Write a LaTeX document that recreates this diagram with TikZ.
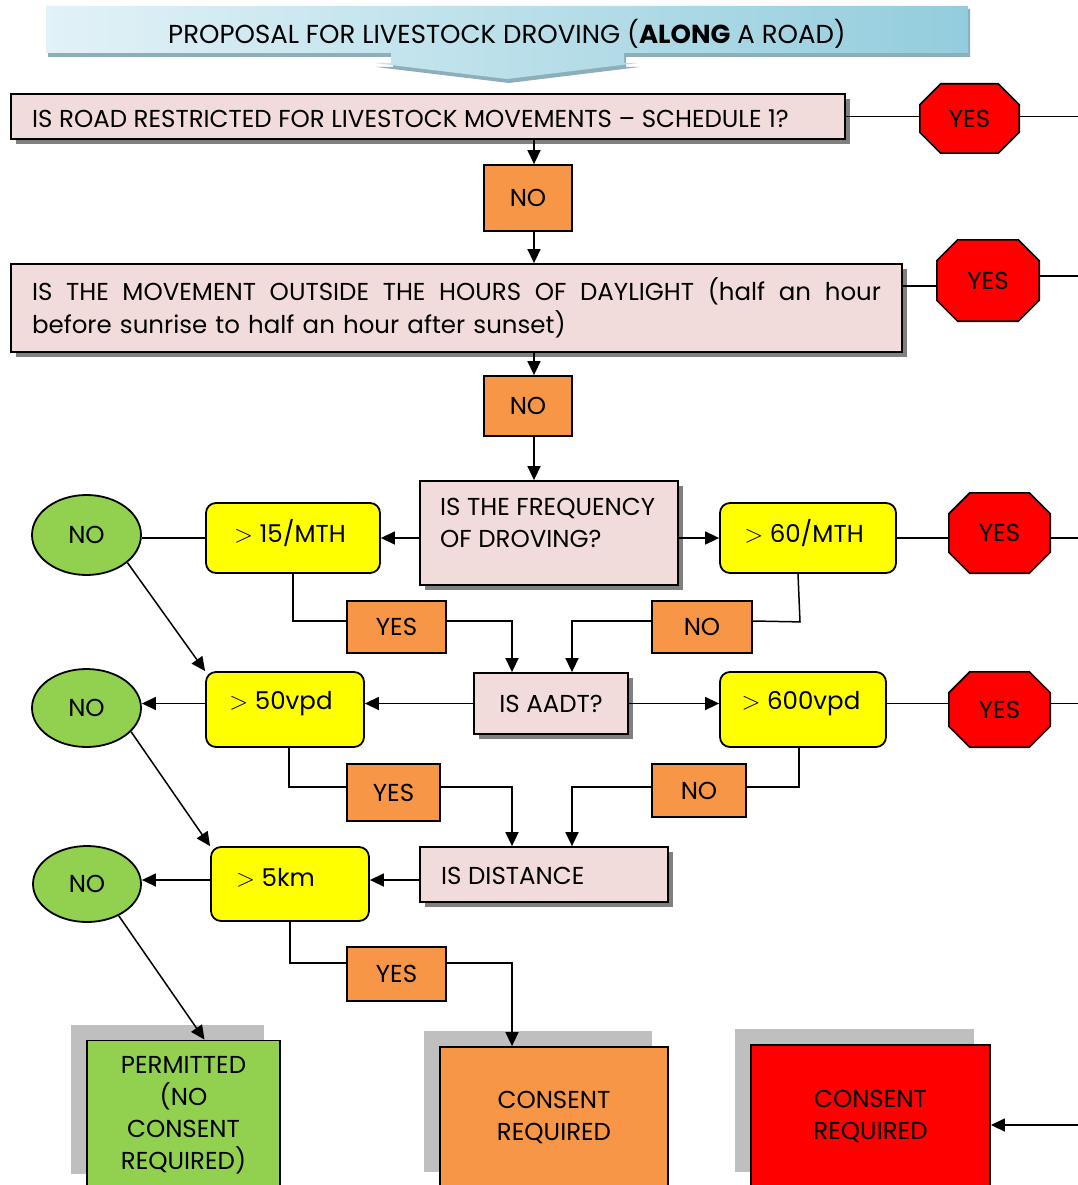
\documentclass[tikz,border=0pt]{standalone}
\usepackage{fontspec}
\setmainfont{Poppins}
\usetikzlibrary{arrows.meta,shadows,calc,shapes.geometric}
\definecolor{pinkfill}{HTML}{F2DCDB}
\definecolor{orangefill}{HTML}{F79646}
\definecolor{yellowfill}{HTML}{FFFF00}
\definecolor{greenfill}{HTML}{92D050}
\definecolor{stopred}{HTML}{FF0000}
\definecolor{shgray}{HTML}{808080}
\definecolor{lgray}{HTML}{BFBFBF}
\definecolor{bannerL}{HTML}{E2F2F7}
\definecolor{bannerR}{HTML}{93CDDD}
\definecolor{bannerSh}{HTML}{8DAFBB}
\pgfdeclarelayer{background}
\pgfsetlayers{background,main}
\newcommand\mainfs{\fontsize{24.5}{32}\selectfont}
\newcommand\titlefs{\fontsize{26}{32}\selectfont}
\newcommand\gt{$>$}
\newcommand\jsp{\hskip 7pt plus 1fil\relax}
\newcommand\octfill[1]{\filldraw[fill=stopred,line width=1.6pt]
 ([xshift=21pt]#1.north west) -- ([xshift=-21pt]#1.north east) --
 ([yshift=-21pt]#1.north east) -- ([yshift=21pt]#1.south east) --
 ([xshift=-21pt]#1.south east) -- ([xshift=21pt]#1.south west) --
 ([yshift=21pt]#1.south west) -- ([yshift=-21pt]#1.north west) -- cycle;}
\begin{document}
\begin{tikzpicture}[x=1pt,y=-1pt,
  every node/.style={font=\mainfs},
  txt/.style={inner sep=0pt},
  ln/.style={line width=1.5pt},
  arr/.style={ln,-{Triangle[length=14pt,width=13pt]}},
  pinkbox/.style={draw,line width=1.8pt,fill=pinkfill,inner sep=0pt,
    drop shadow={shadow xshift=5pt,shadow yshift=-5pt,fill=shgray,opacity=1}},
  orangebox/.style={draw,line width=1.8pt,fill=orangefill,inner sep=0pt},
  yellowbox/.style={draw,line width=1.8pt,fill=yellowfill,rounded corners=10pt,inner sep=0pt},
  greenell/.style={ellipse,draw,line width=1.8pt,fill=greenfill,inner sep=0pt},
  octnode/.style={inner sep=0pt},
  endbox/.style={draw,line width=1.8pt,inner sep=0pt,align=center,
    drop shadow={shadow xshift=-16pt,shadow yshift=16pt,fill=lgray,opacity=1}}]
\useasboundingbox (0,0) rectangle (1078,1185);
\clip (0,0) rectangle (1078,1185);
\coordinate (edge) at (1078,0);
\coordinate (vx) at (534,0);

% title banner
\fill[bannerSh] (48,9) -- (970,9) -- (970,57) -- (626,57) -- (626,67) -- (640,67) -- (509,83) -- (376,67) -- (393,67) -- (393,57) -- (48,57) -- cycle;
\shade[left color=bannerL,right color=bannerR] (46,6) -- (968,6) -- (968,53) -- (624,53) -- (624,63) -- (638,63) -- (507,79) -- (374,63) -- (391,63) -- (391,53) -- (46,53) -- cycle;
\node[txt,font=\titlefs] (title) at (507,34) {PROPOSAL FOR LIVESTOCK DROVING (\textbf{ALONG} A ROAD)};

% question 1
\node[pinkbox,minimum width=834pt,minimum height=45pt] (q1) at (428,116.5) {};
\node[txt,anchor=west] (tq1) at (32,119) {IS ROAD RESTRICTED FOR LIVESTOCK MOVEMENTS -- SCHEDULE 1?};
\node[octnode,minimum width=99pt,minimum height=69pt] (o1) at (969.5,118.5) {YES};
\node[orangebox,minimum width=88pt,minimum height=66pt] (n1) at (528,198) {NO};

% question 2
\node[pinkbox,minimum width=891pt,minimum height=88pt,text width=849pt,align=left,inner xsep=21pt,font=\fontsize{24.5}{33}\selectfont] (q2) at (456.5,308)
 {\hbox to 849pt{IS\jsp THE\jsp MOVEMENT\jsp OUTSIDE\jsp THE\jsp HOURS\jsp OF\jsp DAYLIGHT\jsp (half\jsp an\jsp hour}\\before sunrise to half an hour after sunset)};
\node[octnode,minimum width=102pt,minimum height=81pt] (o2) at (988,280.5) {YES};
\node[orangebox,minimum width=88pt,minimum height=60pt] (n2) at (528,406) {NO};

% frequency row
\node[pinkbox,minimum width=258pt,minimum height=104pt] (fq) at (549,533) {};
\node[txt,anchor=west,align=left] (tfq) at (440,523) {IS THE FREQUENCY\\OF DROVING?};
\node[yellowbox,minimum width=174pt,minimum height=70pt] (y15) at (293,538) {};
\node[txt] (t15) at (290,533) {\gt{} 15/MTH};
\node[yellowbox,minimum width=176pt,minimum height=70pt] (y60) at (808,538) {};
\node[txt] (t60) at (804,533) {\gt{} 60/MTH};
\node[greenell,minimum width=109pt,minimum height=80pt] (e1) at (86.5,535) {NO};
\node[octnode,minimum width=101pt,minimum height=80pt] (o3) at (999.5,533) {YES};
\node[orangebox,minimum width=99pt,minimum height=52pt] (ya) at (396.5,627) {YES};
\node[orangebox,minimum width=100pt,minimum height=52pt] (na) at (702,627) {NO};

% AADT row
\node[pinkbox,minimum width=154pt,minimum height=61pt] (aadt) at (551,703.5) {IS AADT?};
\node[yellowbox,minimum width=158pt,minimum height=75pt] (y50) at (285,709.5) {};
\node[txt] (t50) at (281,704) {\gt{} 50vpd};
\node[yellowbox,minimum width=166pt,minimum height=75pt] (y600) at (803,709.5) {};
\node[txt] (t600) at (801,704) {\gt{} 600vpd};
\node[greenell,minimum width=109pt,minimum height=78pt] (e2) at (86.5,708) {NO};
\node[octnode,minimum width=101pt,minimum height=75pt] (o4) at (999.5,709.5) {YES};
\node[orangebox,minimum width=93pt,minimum height=57pt] (yb) at (393.5,792.5) {YES};
\node[orangebox,minimum width=94pt,minimum height=53pt] (nb) at (699,790.5) {NO};

% distance row
\node[pinkbox,minimum width=248pt,minimum height=55pt] (dist) at (544,874.5) {};
\node[txt,anchor=west] (tdist) at (441,876) {IS DISTANCE};
\node[yellowbox,minimum width=158pt,minimum height=74pt] (y5) at (290,884) {};
\node[txt,anchor=west] (t5) at (236,878) {\gt{} 5km};
\node[greenell,minimum width=108pt,minimum height=76pt] (e3) at (87,884) {NO};
\node[orangebox,minimum width=99pt,minimum height=54pt] (yd) at (396.5,974) {YES};

% outcomes
\node[endbox,fill=greenfill,minimum width=193pt,minimum height=149pt] (perm) at (183.5,1115) {PERMITTED\\(NO\\CONSENT\\REQUIRED)};
\node[endbox,fill=orangefill,minimum width=228pt,minimum height=141pt] (cons1) at (554,1117.5) {CONSENT\\REQUIRED};
\node[endbox,fill=stopred,minimum width=239pt,minimum height=143pt] (cons2) at (870.5,1116.5) {CONSENT\\REQUIRED};

\begin{pgfonlayer}{background}
\octfill{o1}\octfill{o2}\octfill{o3}\octfill{o4}
\end{pgfonlayer}

% connectors: main column
\draw[arr] (q1.south -| vx) -- (n1.north -| vx);
\draw[arr] (n1.south -| vx) -- (q2.north -| vx);
\draw[arr] (q2.south -| vx) -- (n2.north -| vx);
\draw[arr] (n2.south -| vx) -- (fq.north -| vx);
% yes exits
\draw[ln] (q1.east) -- (q1.east -| o1.west);
\draw[ln] (o1.east |- q1.east) -- (q1.east -| edge);
\coordinate (l2) at ([yshift=22pt]q2.east);
\coordinate (r2) at ([yshift=4.5pt]o2.east);
\draw[ln] (l2) -- (l2 -| o2.west);
\draw[ln] (r2) -- (r2 -| edge);
% frequency
\draw[arr] (fq.west |- y15.east) -- (y15.east);
\draw[ln] (y15.west) -- (y15.west -| e1.east);
\draw[arr] (fq.east |- y60.west) -- (y60.west);
\draw[ln] (y60.east) -- (y60.east -| o3.west);
\draw[ln] (o3.east |- y60.east) -- (y60.east -| edge);
\draw[ln] (y15.south) |- ([yshift=6pt]ya.west);
\draw[arr] ([yshift=6pt]ya.east) -| ([xshift=-39pt]aadt.north);
\draw[ln] ([xshift=-10pt]y60.south) -- ++(2,48) -- ([yshift=6pt]na.east);
\draw[arr] ([yshift=6pt]na.west) -| ([xshift=21pt]aadt.north);
\draw[arr] (e1.-34) -- (y50.north west);
% AADT
\draw[arr] (aadt.west) -- (aadt.west -| y50.east);
\draw[arr] (y50.west |- aadt.west) -- (aadt.west -| e2.east);
\draw[arr] (aadt.east) -- (aadt.east -| y600.west);
\draw[ln] (y600.east |- aadt.east) -- (aadt.east -| o4.west);
\draw[ln] (o4.east |- aadt.east) -- (aadt.east -| edge);
\draw[ln] ([xshift=4pt]y50.south) |- ([yshift=5.5pt]yb.west);
\draw[arr] ([yshift=5.5pt]yb.east) -| ([xshift=-32pt]dist.north);
\draw[ln] ([xshift=-4pt]y600.south) |- ([yshift=3.5pt]nb.east);
\draw[arr] ([yshift=3.5pt]nb.west) -| ([xshift=28pt]dist.north);
\draw[arr] (e2.-28) -- (y5.north west);
% distance
\coordinate (d1) at ([yshift=-5.5pt]dist.west);
\draw[arr] (d1) -- (d1 -| y5.east);
\draw[arr] (y5.west |- d1) -- (d1 -| e3.east);
\draw[ln] (y5.south) |- ([yshift=11pt]yd.west);
\draw[arr] ([yshift=11pt]yd.east) -| ([xshift=-42pt]cons1.north);
\draw[arr] (e3.-45) -- ([xshift=21pt]perm.north);
% red outcome
\coordinate (c2) at ([yshift=-8.5pt]cons2.east);
\draw[arr] (c2 -| edge) -- (c2);
\end{tikzpicture}
\end{document}
